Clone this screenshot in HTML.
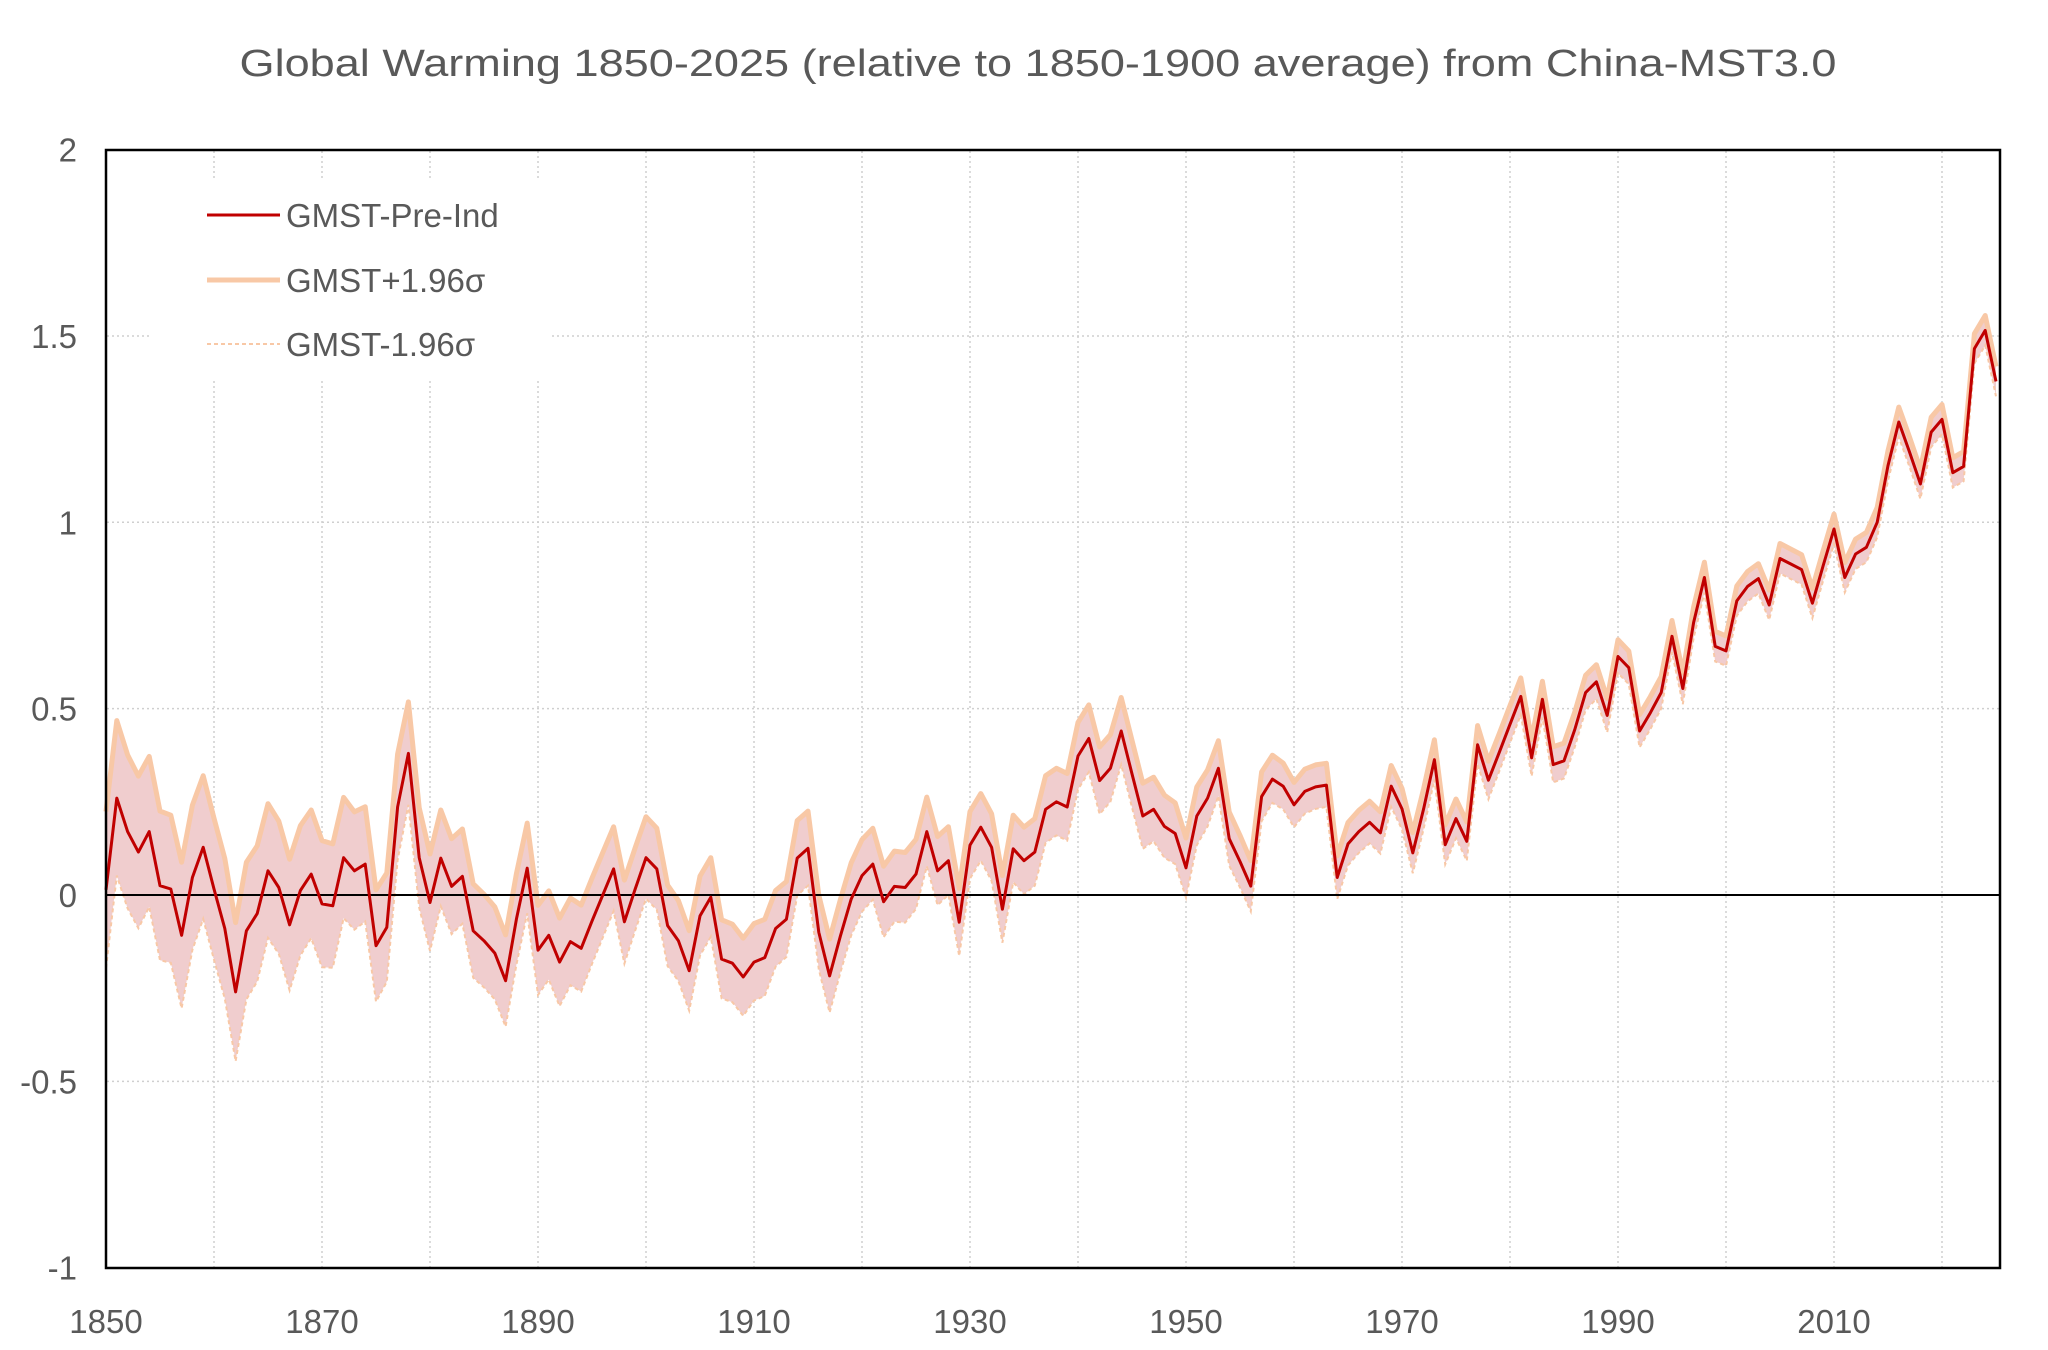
<!DOCTYPE html>
<html><head><meta charset="utf-8"><style>
html,body{margin:0;padding:0;background:#fff;}
svg{display:block;}
text{font-family:"Liberation Sans",Arial,sans-serif;fill:#595959;}
</style></head><body>
<svg id="s" width="2048" height="1350" xmlns="http://www.w3.org/2000/svg">
<rect width="2048" height="1350" fill="#fff"/>
<g id="grid"></g>
<path id="band" fill="#f0cdce" stroke="none"/>
<path id="up" fill="none" stroke="#f8c8a6" stroke-width="5" stroke-linejoin="round"/>
<path id="lo" fill="none" stroke="#f8c8a6" stroke-width="2" stroke-dasharray="4,3"/>
<line x1="106" y1="895" x2="2000" y2="895" stroke="#000" stroke-width="2"/>
<path id="main" fill="none" stroke="#c00000" stroke-width="3" stroke-linejoin="round"/>
<rect x="106" y="150" width="1894" height="1118" fill="none" stroke="#000" stroke-width="2.5"/>
<rect x="150" y="178" width="400" height="200" fill="#fff"/>
<line x1="207" y1="215" x2="280" y2="215" stroke="#c00000" stroke-width="3"/>
<line x1="207" y1="280" x2="280" y2="280" stroke="#f8c8a6" stroke-width="5"/>
<line x1="207" y1="344" x2="280" y2="344" stroke="#f8c8a6" stroke-width="2" stroke-dasharray="4,3"/>
<text x="286" y="227" font-size="33">GMST-Pre-Ind</text>
<text x="286" y="292" font-size="33">GMST+1.96σ</text>
<text x="286" y="356" font-size="33">GMST-1.96σ</text>
<text x="1038" y="76" font-size="38" text-anchor="middle" textLength="1597" lengthAdjust="spacingAndGlyphs">Global Warming 1850-2025 (relative to 1850-1900 average) from China-MST3.0</text>
<g id="lab"></g>
</svg>
<script>
var v=[0.014,0.26,0.17,0.115,0.17,0.025,0.016,-0.108,0.047,0.128,0.016,-0.09,-0.26,-0.096,-0.05,0.065,0.02,-0.08,0.012,0.056,-0.024,-0.029,0.10,0.065,0.083,-0.136,-0.087,0.236,0.38,0.10,-0.02,0.099,0.023,0.05,-0.096,-0.123,-0.156,-0.23,-0.065,0.072,-0.148,-0.108,-0.18,-0.125,-0.143,-0.07,0.0,0.07,-0.072,0.016,0.10,0.07,-0.082,-0.123,-0.203,-0.056,-0.006,-0.172,-0.183,-0.22,-0.18,-0.168,-0.09,-0.065,0.099,0.125,-0.10,-0.217,-0.11,-0.011,0.052,0.083,-0.018,0.023,0.02,0.056,0.17,0.065,0.092,-0.073,0.134,0.182,0.128,-0.038,0.124,0.092,0.115,0.23,0.25,0.236,0.373,0.42,0.307,0.34,0.44,0.325,0.212,0.23,0.184,0.165,0.073,0.212,0.26,0.34,0.151,0.09,0.024,0.264,0.311,0.292,0.242,0.278,0.29,0.295,0.047,0.137,0.17,0.195,0.167,0.292,0.231,0.113,0.231,0.363,0.135,0.205,0.144,0.403,0.308,0.382,0.458,0.533,0.368,0.525,0.35,0.36,0.444,0.543,0.572,0.482,0.64,0.61,0.44,0.489,0.543,0.694,0.554,0.731,0.852,0.667,0.655,0.789,0.828,0.849,0.778,0.903,0.888,0.873,0.783,0.884,0.982,0.852,0.915,0.933,1.0,1.152,1.269,1.188,1.103,1.242,1.276,1.133,1.15,1.466,1.515,1.378];
var kp=[[1850,0.21],[1870,0.17],[1880,0.13],[1900,0.11],[1930,0.09],[1945,0.09],[1960,0.06],[1980,0.05],[2000,0.04],[2025,0.04]];
function sig(y){for(var i=0;i<kp.length-1;i++){if(y<=kp[i+1][0]){var t=(y-kp[i][0])/(kp[i+1][0]-kp[i][0]);return kp[i][1]+t*(kp[i+1][1]-kp[i][1]);}}return 0.04;}
function X(yr){return 106+(yr-1850)*10.8;}
function Y(val){return 895-val*372.7;}
var m="",up=[],lo=[];
for(var i=0;i<v.length;i++){var yr=1850+i,s=sig(yr),x=X(yr).toFixed(1);
m+=(i?"L":"M")+x+","+Y(v[i]).toFixed(1);
up.push(x+","+Y(v[i]+s).toFixed(1));lo.push(x+","+Y(v[i]-s).toFixed(1));}
document.getElementById("main").setAttribute("d",m);
document.getElementById("up").setAttribute("d","M"+up.join("L"));
document.getElementById("lo").setAttribute("d","M"+lo.join("L"));
document.getElementById("band").setAttribute("d","M"+up.join("L")+"L"+lo.slice().reverse().join("L")+"Z");
var g="";
for(var yr=1860;yr<=2020;yr+=10){var x=X(yr);g+='<line x1="'+x+'" y1="151" x2="'+x+'" y2="1267" stroke="#cfcfcf" stroke-width="1.5" stroke-dasharray="2,3"/>';}
[1.5,1,0.5,-0.5].forEach(function(val){var y=Y(val);g+='<line x1="107" y1="'+y+'" x2="1999" y2="'+y+'" stroke="#cfcfcf" stroke-width="1.5" stroke-dasharray="2,3"/>';});
document.getElementById("grid").innerHTML=g;
var t="";
[[2,"2"],[1.5,"1.5"],[1,"1"],[0.5,"0.5"],[0,"0"],[-0.5,"-0.5"],[-1,"-1"]].forEach(function(a){t+='<text x="77" y="'+(Y(a[0])+12)+'" font-size="33" text-anchor="end">'+a[1]+'</text>';});
for(var yr=1850;yr<=2010;yr+=20){t+='<text x="'+X(yr)+'" y="1333" font-size="33" text-anchor="middle">'+yr+'</text>';}
document.getElementById("lab").innerHTML=t;
</script>
</body></html>
